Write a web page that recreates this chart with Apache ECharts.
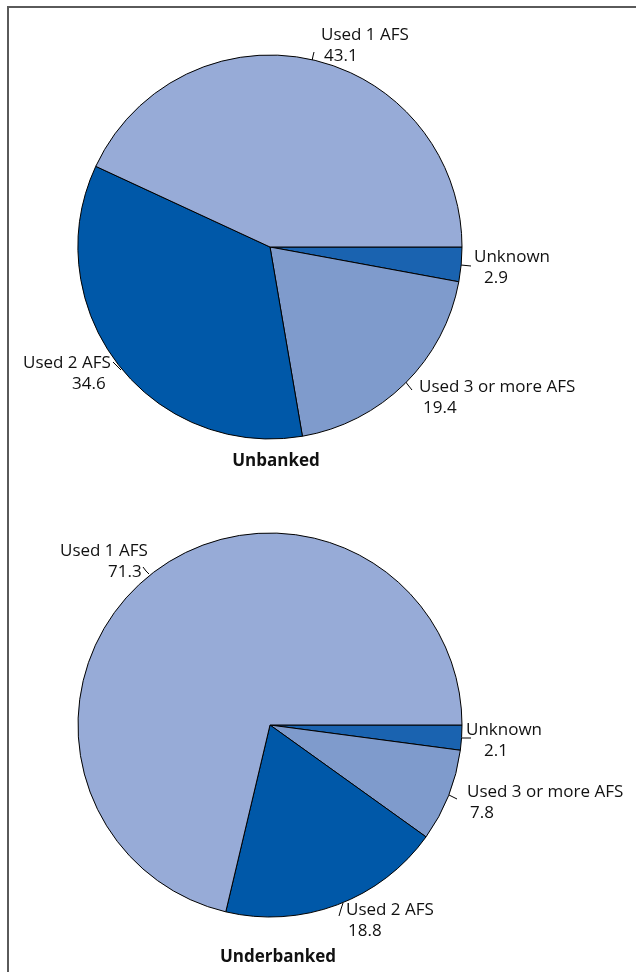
<!DOCTYPE html>
<html>
<head>
<meta charset="utf-8">
<script src="https://cdn.jsdelivr.net/npm/echarts@6/dist/echarts.min.js"></script>
<style>
html,body{margin:0;padding:0;background:#fff;}
#chart{width:636px;height:972px;}
</style>
</head>
<body>
<div id="chart"></div>
<script>
// ---- data ----
var categories = ['Unknown', 'Used 3 or more AFS', 'Used 2 AFS', 'Used 1 AFS'];
var unbankedValues = [2.9, 19.4, 34.6, 43.1];
var underbankedValues = [2.1, 7.8, 18.8, 71.3];
var chartTitles = ['Unbanked', 'Underbanked'];

// ---- styling / layout (kept separate from data) ----
var sliceColors = ['#1a63b0', '#7f9bcc', '#0058a8', '#97abd7'];
var FONT = '"Open Sans", "Noto Sans", sans-serif';
var FS = 17;
// label placement per slice: x, first-line centre y, value indent, leader line points
var labelLayouts = [
  [ // Unbanked
    {x: 474, y: 257, indent: 10, line: [[461,265],[466,265.5],[471,266]]},
    {x: 419, y: 387, indent: 4,  line: [[405,381],[408,385],[412,390]]},
    {x: 23,  y: 363, indent: 49, line: [[121,370],[117,366],[113,362]]},
    {x: 321, y: 35,  indent: 3,  line: [[312,61],[313,56],[314,52]]}
  ],
  [ // Underbanked
    {x: 466, y: 730, indent: 18, line: [[462,738],[466,738],[471,738]]},
    {x: 467, y: 792, indent: 3,  line: [[449,795],[453,797],[457,799]]},
    {x: 346, y: 910, indent: 2,  line: [[339,916],[341,909],[343,903]]},
    {x: 60,  y: 551, indent: 48, line: [[149,574],[146,571],[143,567]]}
  ]
];
var centers = [[270, 247], [270, 725]];
var radius = 192;
var titlePos = [[271, 459], [273, 955]];

function buildData(values) {
  return categories.map(function (c, i) {
    return {name: c, value: values[i], itemStyle: {color: sliceColors[i]}};
  });
}

function makeSeries(values, si) {
  var lay = labelLayouts[si];
  var rich = {n: {fontSize: FS, lineHeight: 20.5, fontFamily: FONT, color: '#111'}};
  for (var k = 0; k < lay.length; k++) {
    rich['p' + k] = {width: lay[k].indent, lineHeight: 20.5, fontSize: FS};
  }
  return {
    type: 'pie',
    center: centers[si],
    radius: radius,
    startAngle: 0,
    clockwise: true,
    silent: true,
    animation: false,
    avoidLabelOverlap: false,
    itemStyle: {borderColor: '#000', borderWidth: 1},
    label: {
      show: true,
      position: 'outside',
      overflow: 'none',
      width: 300,
      fontFamily: FONT,
      fontSize: FS,
      lineHeight: 20.5,
      color: '#111',
      align: 'left',
      formatter: function (p) {
        return '{n|' + p.name + '}\n{p' + p.dataIndex + '|}{n|' + p.value + '}';
      },
      rich: rich
    },
    labelLine: {show: true, lineStyle: {color: '#000', width: 1}},
    labelLayout: function (params) {
      var l = lay[params.dataIndex];
      return {
        x: l.x,
        y: l.y - 10,
        align: 'left',
        verticalAlign: 'top',
        labelLinePoints: l.line
      };
    },
    data: buildData(values)
  };
}

var chart = echarts.init(document.getElementById('chart'), null, {renderer: 'canvas'});
chart.setOption({
  backgroundColor: '#fff',
  animation: false,
  title: chartTitles.map(function (t, i) {
    return {
      text: t,
      left: titlePos[i][0],
      top: titlePos[i][1] - 11,
      textAlign: 'center',
      textStyle: {fontFamily: FONT, fontSize: 17, fontWeight: 'bold', color: '#111'}
    };
  }),
  graphic: [
    {type: 'polyline', shape: {points: [[8, 972], [8, 7], [636, 7]]},
     style: {stroke: '#5a5a5a', lineWidth: 2, fill: null}, silent: true}
  ],
  series: [makeSeries(unbankedValues, 0), makeSeries(underbankedValues, 1)]
});
</script>
</body>
</html>
